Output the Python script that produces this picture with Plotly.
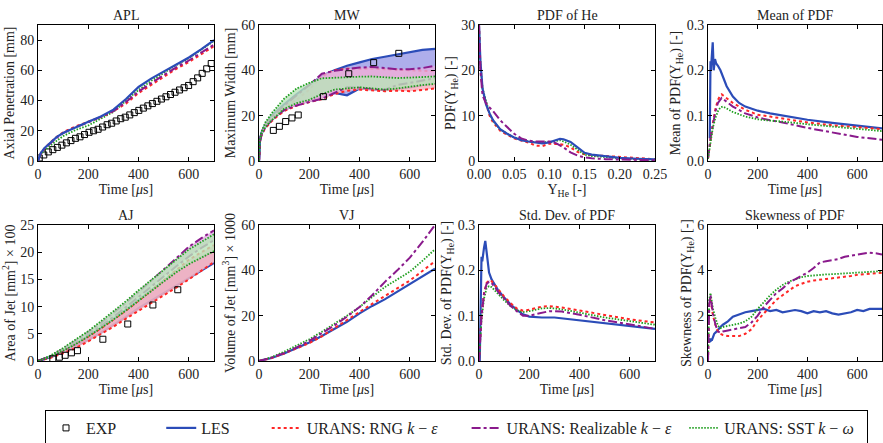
import plotly.graph_objects as go

# ---------------- DATA ----------------
# APL (Axial penetration, mm)
T_APL = [0, 10, 25, 50, 75, 100, 150, 200, 250, 300, 350, 400, 450, 500, 550, 600, 650, 700]
APL_LES = [0, 5, 8.5, 12.5, 16, 18.5, 22.5, 26, 29.5, 34, 41, 49, 54.5, 59, 63.5, 68.5, 74, 80]
APL_RNG = [0, 4.5, 8, 12.5, 16, 19, 23, 26, 29, 33, 38, 45, 50.5, 56, 61, 65.5, 71, 76]
APL_RLZ = [0, 4.5, 8, 12, 15.5, 18.5, 22.5, 25.5, 29, 33, 39, 46, 51.5, 57, 62, 66.5, 72, 77]
APL_SST = [0, 4, 7, 10.5, 13.5, 16.5, 20.5, 23.5, 28, 32.5, 40, 47, 53, 58.5, 63.5, 68, 74, 79.5]
T_APL_EXP = [5, 23, 41, 59, 77, 95, 113, 131, 149, 167, 185, 203, 221, 239, 257, 275, 293, 311, 329,
             347, 365, 383, 401, 419, 437, 455, 473, 491, 509, 527, 545, 563, 581, 599, 617, 635, 653, 671, 689]
APL_EXP = [2, 4, 6, 7.5, 9, 10.5, 12, 13.5, 15, 16, 17.5, 19, 20, 21, 22.5, 24, 25, 26.5, 28,
           29, 30.5, 32, 33.5, 35, 36.5, 38, 39.5, 41, 42.5, 44, 45.5, 47, 48.5, 50, 52.5, 55, 58, 61, 64.5]

# MW (Maximum width, mm) - bands (upper / lower)
T_MW = [0, 3, 10, 25, 50, 75, 100, 150, 200, 250, 300, 350, 400, 450, 500, 550, 600, 650, 700]
MW_LES_UP = [0, 9, 12.5, 16, 20, 22.5, 25, 29.5, 33.5, 37.5, 40, 42, 43.5, 45, 46, 47, 48.2, 49, 49.5]
MW_LES_LO = [0, 8.5, 12, 15, 18, 20.5, 22.5, 25, 26.5, 28, 30, 29, 32, 31.5, 31.3, 32, 32.5, 33.5, 34.5]
MW_RNG_UP = [0, 8.5, 12, 15.5, 19, 21.5, 23.5, 27, 31.5, 37.5, 40, 40.7, 40.7, 40.8, 40.5, 40.2, 40, 39.8, 39.7]
MW_RNG_LO = [0, 8, 11.5, 14.5, 17.5, 20, 22, 24.5, 26, 27.3, 29.5, 31, 31.5, 31, 30.8, 31, 30.8, 31.3, 32]
MW_RLZ_UP = [0, 8.5, 12.5, 16, 19.5, 22, 24.5, 29, 33.5, 38.5, 39.8, 40.5, 41.2, 41.5, 41, 40.5, 40.5, 41, 42]
MW_RLZ_LO = [0, 8, 11.5, 15, 18, 20.5, 22.5, 24.5, 26, 27.5, 30, 32.5, 32.5, 32, 31.5, 33.5, 34.5, 35.5, 36.5]
MW_SST_UP = [0, 9, 13, 17, 21, 24.5, 27.5, 32, 34.5, 36.5, 36.8, 37, 37.2, 37.3, 36.8, 36.6, 36.8, 37, 37.3]
MW_SST_LO = [0, 8.5, 12, 15, 18, 20.5, 23, 25.5, 27, 29.5, 31.5, 32, 32.5, 32, 31.5, 32, 32.8, 33.5, 34]
T_MW_EXP = [57, 81, 106, 131, 156, 256, 357, 456, 556]
MW_EXP = [13.5, 15.3, 17.4, 19, 20.3, 28.4, 38.5, 43.4, 47.5]

# PDF of He
X_PDF = [0, 0.002, 0.005, 0.01, 0.015, 0.02, 0.03, 0.04, 0.05, 0.06, 0.07, 0.08, 0.09, 0.1, 0.11,
         0.115, 0.12, 0.13, 0.14, 0.15, 0.16, 0.18, 0.2, 0.225, 0.25]
PDF_LES = [30, 22, 16, 12.5, 10.5, 9, 7, 6, 5.2, 4.6, 4.3, 4.1, 3.9, 4.1, 4.6, 4.9, 4.8, 4.2, 3.0, 1.8, 1.4, 1.0, 0.7, 0.5, 0.35]
PDF_RNG = [30, 21, 15.5, 12.5, 10, 8.5, 6.7, 5.8, 5.0, 4.5, 4.1, 3.4, 3.3, 3.8, 3.8, 3.7, 3.6, 3.0, 2.0, 1.5, 1.3, 1.1, 0.9, 0.6, 0.4]
PDF_RLZ = [30, 20, 14.5, 12.7, 11.8, 11, 9, 7.5, 6.0, 5.0, 4.5, 4.3, 4.3, 4.3, 3.9, 3.5, 3.0, 1.9, 1.2, 0.8, 0.6, 0.4, 0.3, 0.2, 0.15]
PDF_SST = [30, 21.5, 16, 13, 10.5, 8.8, 7, 6, 5.2, 4.7, 4.3, 4.2, 4.1, 4.2, 4.5, 4.6, 4.3, 3.6, 2.5, 1.4, 1.1, 0.8, 0.6, 0.4, 0.3]

# Mean of PDF
T_MEAN_LES = [7, 8, 10, 12, 14, 19, 23, 28, 33, 40, 50, 60, 75, 100, 125, 150, 200, 250, 300, 400, 500, 600, 700]
MEAN_LES = [0.05, 0.1, 0.22, 0.2, 0.22, 0.262, 0.2, 0.225, 0.215, 0.21, 0.2, 0.185, 0.165, 0.142, 0.128,
            0.12, 0.111, 0.105, 0.1, 0.091, 0.084, 0.078, 0.072]
T_MEAN = [0, 10, 20, 30, 40, 50, 55, 60, 75, 100, 150, 200, 250, 300, 400, 500, 600, 700]
MEAN_RNG = [0.005, 0.05, 0.085, 0.115, 0.135, 0.145, 0.147, 0.145, 0.138, 0.128, 0.113, 0.102, 0.098, 0.094, 0.085, 0.079, 0.074, 0.07]
MEAN_RLZ = [0.005, 0.05, 0.08, 0.11, 0.128, 0.137, 0.139, 0.137, 0.13, 0.12, 0.105, 0.096, 0.09, 0.085, 0.073, 0.063, 0.053, 0.047]
MEAN_SST = [0.005, 0.045, 0.075, 0.095, 0.11, 0.118, 0.12, 0.12, 0.116, 0.108, 0.098, 0.092, 0.089, 0.087, 0.081, 0.076, 0.07, 0.066]

# AJ (Area of jet, mm^2 x 100) - bands
T_AJ = [0, 50, 100, 150, 200, 250, 300, 350, 400, 450, 500, 550, 600, 650, 700]
AJ_LES_UP = [0, 0.8, 1.9, 3.2, 4.6, 6.1, 7.7, 9.4, 11.2, 13.0, 14.8, 16.5, 18.0, 19.1, 20.2]
AJ_LES_LO = [0, 0.7, 1.6, 2.7, 3.9, 5.2, 6.6, 8.1, 9.7, 11.1, 12.5, 13.9, 15.3, 16.7, 18.0]
AJ_RNG_UP = [0, 0.8, 1.9, 3.2, 4.5, 6.0, 7.6, 9.3, 11.1, 13.0, 14.9, 16.8, 18.6, 20.0, 21.3]
AJ_RNG_LO = [0, 0.6, 1.4, 2.4, 3.6, 4.9, 6.3, 7.8, 9.2, 10.6, 12.0, 13.5, 15.0, 16.6, 18.2]
AJ_RLZ_UP = [0, 0.9, 2.2, 3.7, 5.3, 7.0, 8.8, 10.7, 12.7, 14.7, 16.8, 18.9, 21.0, 22.6, 24.0]
AJ_RLZ_LO = [0, 0.8, 2.0, 3.3, 4.8, 6.4, 8.1, 9.9, 11.8, 13.7, 15.6, 17.4, 19.2, 20.8, 22.2]
AJ_SST_UP = [0, 1.0, 2.4, 3.9, 5.5, 7.3, 9.1, 11.0, 13.0, 14.9, 16.8, 18.7, 20.5, 21.9, 23.3]
AJ_SST_LO = [0, 0.8, 1.9, 3.1, 4.5, 6.0, 7.6, 9.3, 11.1, 12.8, 14.6, 16.3, 17.8, 19.0, 20.2]
T_AJ_EXP = [59, 85, 108, 133, 157, 258, 357, 457, 556]
AJ_EXP = [0.4, 0.7, 1.05, 1.5, 1.9, 4.0, 6.8, 10.3, 13.1]

# VJ (Volume of jet, mm^3 x 1000)
T_VJ = [0, 50, 100, 150, 200, 250, 300, 350, 400, 450, 500, 550, 600, 650, 700]
VJ_LES = [0, 1.3, 3.3, 5.6, 8.2, 11, 14, 17.3, 21, 24.3, 27.2, 30.5, 34, 37.3, 40.7]
VJ_RNG = [0, 1.3, 3.3, 5.5, 7.9, 10.9, 14.5, 18, 21.8, 25.2, 28.6, 32, 35.5, 39.7, 44]
VJ_RLZ = [0, 1.5, 3.5, 6, 8.9, 12.2, 15.7, 19.6, 23.8, 29, 34.8, 40, 45.6, 52.5, 60]
VJ_SST = [0, 1.7, 4.1, 6.7, 9.6, 12.9, 16.4, 20, 23.8, 28.2, 32.6, 36, 39.4, 44.2, 49.3]

# Std. dev. of PDF
T_STD_LES = [3, 8, 10, 13, 16, 20, 25, 30, 35, 40, 50, 60, 75, 100, 125, 150, 175, 200, 250, 300, 350, 400, 500, 600, 700]
STD_LES = [0.0, 0.18, 0.23, 0.22, 0.24, 0.25, 0.265, 0.245, 0.215, 0.195, 0.18, 0.17, 0.157, 0.14, 0.125,
           0.113, 0.103, 0.098, 0.096, 0.096, 0.093, 0.09, 0.083, 0.077, 0.071]
T_STD = [0, 10, 20, 30, 40, 50, 60, 80, 100, 125, 150, 175, 200, 250, 280, 330, 400, 500, 600, 700]
STD_RNG = [0.0, 0.1, 0.15, 0.172, 0.178, 0.176, 0.17, 0.155, 0.142, 0.128, 0.116, 0.111, 0.113, 0.12, 0.121, 0.118, 0.111, 0.101, 0.092, 0.085]
STD_RLZ = [0.0, 0.1, 0.148, 0.17, 0.175, 0.172, 0.165, 0.15, 0.138, 0.122, 0.11, 0.1, 0.1, 0.106, 0.11, 0.109, 0.102, 0.09, 0.08, 0.071]
STD_SST = [0.0, 0.09, 0.138, 0.16, 0.165, 0.163, 0.157, 0.145, 0.134, 0.121, 0.112, 0.108, 0.11, 0.116, 0.117, 0.114, 0.106, 0.096, 0.088, 0.08]

# Skewness of PDF
T_SK_LES = [5, 8, 10, 12, 15, 20, 25, 30, 40, 50, 60, 80, 100, 125, 150, 175, 200, 225, 250, 275, 300, 325, 350,
            375, 400, 425, 450, 475, 500, 525, 550, 575, 600, 625, 650, 675, 700]
SK_LES = [0.8, 1.0, 0.85, 1.0, 0.9, 1.1, 1.2, 1.25, 1.4, 1.5, 1.6, 1.75, 1.95, 2.05, 2.15, 2.2, 2.25, 2.3, 2.2,
          2.25, 2.15, 2.2, 2.25, 2.2, 2.1, 2.2, 2.15, 2.2, 2.1, 2.05, 2.1, 2.15, 2.25, 2.2, 2.3, 2.3, 2.3]
T_SK = [0, 5, 10, 15, 20, 30, 40, 50, 60, 80, 100, 125, 150, 175, 200, 225, 250, 275, 300, 325, 350, 375, 400,
        425, 450, 475, 500, 525, 550, 575, 600, 625, 650, 675, 700]
SK_RNG = [0, 2.5, 2.8, 2.4, 2.0, 1.6, 1.3, 1.2, 1.15, 1.1, 1.1, 1.1, 1.2, 1.4, 1.8, 2.1, 2.4, 2.7, 2.9, 3.1, 3.3,
          3.4, 3.5, 3.55, 3.6, 3.62, 3.65, 3.68, 3.7, 3.75, 3.8, 3.82, 3.85, 3.88, 3.9]
SK_RLZ = [0, 2.5, 2.9, 2.5, 2.1, 1.6, 1.3, 1.25, 1.3, 1.35, 1.4, 1.45, 1.5, 1.7, 2.0, 2.4, 2.7, 3.0, 3.2, 3.45,
          3.6, 3.75, 3.9, 4.1, 4.35, 4.4, 4.45, 4.5, 4.6, 4.65, 4.7, 4.75, 4.78, 4.75, 4.7]
SK_SST = [0, 2.7, 3.0, 2.6, 2.3, 1.9, 1.55, 1.45, 1.5, 1.55, 1.6, 1.65, 1.75, 1.95, 2.3, 2.6, 2.9, 3.15, 3.35,
          3.5, 3.6, 3.7, 3.75, 3.78, 3.8, 3.82, 3.83, 3.85, 3.87, 3.9, 3.92, 3.93, 3.95, 3.95, 3.95]

TITLES = ["APL", "MW", "PDF of He", "Mean of PDF", "AJ", "VJ", "Std. Dev. of PDF", "Skewness of PDF"]
YTITLES = ["Axial Penetration [mm]", "Maximum Width [mm]", "PDF(Y<sub>He</sub>) [-]",
           "Mean of PDF(Y<sub>He</sub>) [-]", "Area of Jet [mm<sup>2</sup>] × 100",
           "Volume of Jet [mm<sup>3</sup>] × 1000", "Std. Dev. of PDF(Y<sub>He</sub>) [-]",
           "Skewness of PDF(Y<sub>He</sub>) [-]"]
NB = "\u00a0"
NAMES = {"EXP": "EXP" + NB * 10, "LES": "LES" + NB * 8,
         "RNG": "URANS: RNG <i>k</i> − <i>ε</i>" + NB * 6,
         "RLZ": "URANS: Realizable <i>k</i> − <i>ε</i>" + NB * 2,
         "SST": "URANS: SST <i>k</i> − <i>ω</i>" + NB * 2}

# ---------------- STYLE ----------------
FONT = "Liberation Serif"
LINE = {
    "LES": dict(color="#2b4cb8", width=2.2, dash="solid"),
    "RNG": dict(color="#ff2626", width=2, dash="dot"),
    "RLZ": dict(color="#8a1a8c", width=2, dash="dashdot"),
    "SST": dict(color="#1e9e1e", width=1.8, dash="1.5px,1.5px"),
}
FILL = {
    "LES": "rgba(160,160,232,0.85)",
    "RNG": "rgba(248,180,190,0.85)",
    "RLZ": "rgba(225,172,225,0.80)",
    "SST": "rgba(185,228,185,0.80)",
}

fig = go.Figure()


def ax(i):
    return ("x" if i == 1 else f"x{i}"), ("y" if i == 1 else f"y{i}")


def line(i, x, y, key, legend=False):
    xa, ya = ax(i)
    fig.add_trace(go.Scatter(x=x, y=y, mode="lines", line=LINE[key], name=NAMES[key],
                             legendgroup=key, showlegend=legend, xaxis=xa, yaxis=ya))


def band(i, x, lo, up, key):
    xa, ya = ax(i)
    fig.add_trace(go.Scatter(x=x, y=lo, mode="lines", line=LINE[key], showlegend=False,
                             legendgroup=key, xaxis=xa, yaxis=ya))
    fig.add_trace(go.Scatter(x=x, y=up, mode="lines", line=LINE[key], fill="tonexty",
                             fillcolor=FILL[key], showlegend=False, legendgroup=key,
                             xaxis=xa, yaxis=ya))


def exp(i, x, y, legend=False):
    xa, ya = ax(i)
    fig.add_trace(go.Scatter(x=x, y=y, mode="markers", name=NAMES["EXP"], legendgroup="EXP",
                             showlegend=legend,
                             marker=dict(symbol="square-open", size=6, color="black",
                                         line=dict(width=1, color="black")),
                             xaxis=xa, yaxis=ya))


# Panel 1: APL
exp(1, T_APL_EXP, APL_EXP, legend=True)
line(1, T_APL, APL_SST, "SST")
line(1, T_APL, APL_RNG, "RNG")
line(1, T_APL, APL_RLZ, "RLZ")
line(1, T_APL, APL_LES, "LES")
# Panel 2: MW
band(2, T_MW, MW_LES_LO, MW_LES_UP, "LES")
band(2, T_MW, MW_RNG_LO, MW_RNG_UP, "RNG")
band(2, T_MW, MW_RLZ_LO, MW_RLZ_UP, "RLZ")
band(2, T_MW, MW_SST_LO, MW_SST_UP, "SST")
exp(2, T_MW_EXP, MW_EXP)
# Panel 3: PDF
line(3, X_PDF, PDF_RNG, "RNG")
line(3, X_PDF, PDF_SST, "SST")
line(3, X_PDF, PDF_LES, "LES")
line(3, X_PDF, PDF_RLZ, "RLZ")
# Panel 4: Mean
line(4, T_MEAN_LES, MEAN_LES, "LES")
line(4, T_MEAN, MEAN_RNG, "RNG")
line(4, T_MEAN, MEAN_RLZ, "RLZ")
line(4, T_MEAN, MEAN_SST, "SST")
# Panel 5: AJ
band(5, T_AJ, AJ_LES_LO, AJ_LES_UP, "LES")
band(5, T_AJ, AJ_RNG_LO, AJ_RNG_UP, "RNG")
band(5, T_AJ, AJ_RLZ_LO, AJ_RLZ_UP, "RLZ")
band(5, T_AJ, AJ_SST_LO, AJ_SST_UP, "SST")
exp(5, T_AJ_EXP, AJ_EXP)
# Panel 6: VJ
line(6, T_VJ, VJ_LES, "LES")
line(6, T_VJ, VJ_RNG, "RNG")
line(6, T_VJ, VJ_SST, "SST")
line(6, T_VJ, VJ_RLZ, "RLZ")
# Panel 7: Std
line(7, T_STD_LES, STD_LES, "LES")
line(7, T_STD, STD_SST, "SST")
line(7, T_STD, STD_RNG, "RNG")
line(7, T_STD, STD_RLZ, "RLZ")
# Panel 8: Skewness
line(8, T_SK_LES, SK_LES, "LES")
line(8, T_SK, SK_RNG, "RNG")
line(8, T_SK, SK_SST, "SST")
line(8, T_SK, SK_RLZ, "RLZ")

# legend entries for the line models (order: EXP, LES, RNG, RLZ, SST)
for key in ["LES", "RNG", "RLZ", "SST"]:
    fig.add_trace(go.Scatter(x=[None], y=[None], mode="lines", line=LINE[key], name=NAMES[key],
                             legendgroup=key, showlegend=True, xaxis="x", yaxis="y"))

# ---------------- LAYOUT ----------------
W, H = 883, 443
COLS = [(38, 214), (259, 435), (479, 655), (708, 882)]
ROWS = [(25, 161), (225, 361)]
YRANGE = [[0, 90], [0, 60], [0, 30], [0, 0.3], [0, 25], [0, 60], [0, 0.3], [0, 6]]
YDTICK = [20, 20, 10, 0.1, 5, 20, 0.1, 2]
YFMT = ["", "", "", ".1f", "", "", ".1f", ""]

TXT = dict(family=FONT, size=14, color="#222")
axis_common = dict(showline=True, linecolor="black", linewidth=1, mirror="ticks", ticks="inside",
                   ticklen=4, tickcolor="black", showgrid=False, zeroline=False,
                   automargin=False, tickfont=TXT)
annotations = []
layout = {}
for i in range(8):
    r, c = divmod(i, 4)
    x0, x1 = COLS[c]
    y0, y1 = ROWS[r]
    n = "" if i == 0 else str(i + 1)
    xdom = [x0 / W, x1 / W]
    ydom = [(H - y1) / H, (H - y0) / H]
    if i == 2:
        xa = dict(range=[0, 0.25], dtick=0.05, tickformat=".2f",
                  title=dict(text="Y<sub>He</sub> [-]", standoff=2, font=TXT))
    else:
        xa = dict(range=[0, 700], dtick=200, title=dict(text="Time [<i>μ</i>s]", standoff=2, font=TXT))
    xa.update(axis_common, domain=xdom, anchor="y" + n)
    ya = dict(range=YRANGE[i], dtick=YDTICK[i], tickformat=YFMT[i], domain=ydom, anchor="x" + n,
              title=dict(text=YTITLES[i], standoff=2, font=TXT))
    ya.update(axis_common)
    layout["xaxis" + n] = xa
    layout["yaxis" + n] = ya
    annotations.append(dict(text=TITLES[i], x=(xdom[0] + xdom[1]) / 2, y=ydom[1], xref="paper",
                            yref="paper", xanchor="center", yanchor="bottom", showarrow=False,
                            font=TXT))

fig.update_layout(**layout)
fig.update_layout(
    width=W, height=H, autosize=False,
    margin=dict(l=0, r=0, t=0, b=0, autoexpand=False),
    paper_bgcolor="white", plot_bgcolor="white",
    font=dict(family=FONT),
    annotations=annotations,
    showlegend=True,
    legend=dict(orientation="h", x=45 / W, xanchor="left", y=(H - 428) / H, yanchor="middle",
                bordercolor="black", borderwidth=1, bgcolor="white",
                font=dict(family=FONT, size=16, color="#222"), itemwidth=30,
                traceorder="normal"),
)

fig.write_html("out.html")
